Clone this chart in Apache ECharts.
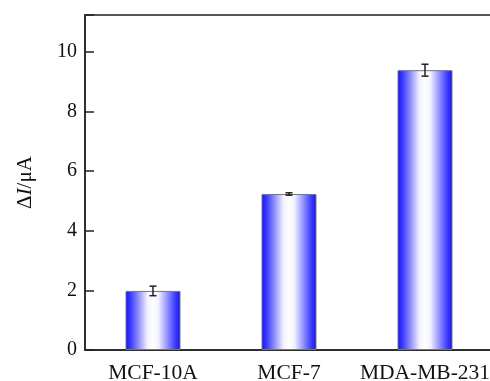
<!DOCTYPE html>
<html><head><meta charset="utf-8">
<script src="https://cdn.jsdelivr.net/npm/echarts@6/dist/echarts.min.js"></script>
<style>html,body{margin:0;padding:0;background:#fff}#c{width:490px;height:381px}</style>
</head><body><div id="c"></div>
<script>
var categories = ['MCF-10A', 'MCF-7', 'MDA-MB-231'];
var values = [1.98, 5.23, 9.38];
var errors = [0.16, 0.04, 0.2];
var yTicks = [0, 2, 4, 6, 8, 10];

var chart = echarts.init(document.getElementById('c'));
var font = '"Liberation Serif", "Times New Roman", serif';
var grad = new echarts.graphic.LinearGradient(0, 0, 1, 0, [
  {offset: 0, color: '#0f0fff'},
  {offset: 0.12, color: '#4a4aff'},
  {offset: 0.4, color: '#f2f2ff'},
  {offset: 0.5, color: '#ffffff'},
  {offset: 0.6, color: '#f2f2ff'},
  {offset: 0.88, color: '#4a4aff'},
  {offset: 1, color: '#0f0fff'}
]);
chart.setOption({
  animation: false,
  grid: {left: 85, top: 15, width: 408, height: 335, show: true, borderColor: '#222', borderWidth: 1.5,
    containLabel: false, outerBoundsMode: 'none'},
  xAxis: {
    type: 'category', data: categories,
    axisLine: {lineStyle: {color: '#222', width: 1.5}},
    axisTick: {show: false},
    axisLabel: {color: '#111', fontFamily: font, fontSize: 21.5, margin: 12, interval: 0}
  },
  yAxis: {
    type: 'value', min: 0, max: 11.23, interval: 2,
    splitLine: {show: false},
    axisLine: {show: true, lineStyle: {color: '#222', width: 1.5}},
    axisTick: {show: true, inside: true, length: 9, lineStyle: {color: '#222', width: 1.5}},
    axisLabel: {color: '#111', fontFamily: font, fontSize: 20, margin: 8,
      formatter: function (v) { return yTicks.indexOf(v) >= 0 ? String(v) : ''; }},
    name: '{a|Δ}{i|I}{a|/μA}', nameLocation: 'middle', nameRotate: 90, nameGap: 49,
    nameTextStyle: {rich: {
      a: {fontFamily: font, fontSize: 21, color: '#111'},
      i: {fontFamily: font, fontSize: 21, fontStyle: 'italic', color: '#111'}
    }}
  },
  series: [{
    type: 'bar', data: values, barWidth: 55,
    itemStyle: {color: grad, borderColor: '#777', borderWidth: 1}
  }, {
    type: 'custom',
    data: values.map(function (v, i) { return [i, v - errors[i], v + errors[i]]; }),
    renderItem: function (params, api) {
      var lo = api.coord([api.value(0), api.value(1)]);
      var hi = api.coord([api.value(0), api.value(2)]);
      var h = 3.5;
      var st = {stroke: '#222', lineWidth: 1.5};
      return {type: 'group', children: [
        {type: 'line', shape: {x1: hi[0], y1: hi[1], x2: lo[0], y2: lo[1]}, style: st},
        {type: 'line', shape: {x1: hi[0] - h, y1: hi[1], x2: hi[0] + h, y2: hi[1]}, style: st},
        {type: 'line', shape: {x1: lo[0] - h, y1: lo[1], x2: lo[0] + h, y2: lo[1]}, style: st}
      ]};
    },
    z: 5
  }]
});
</script></body></html>
